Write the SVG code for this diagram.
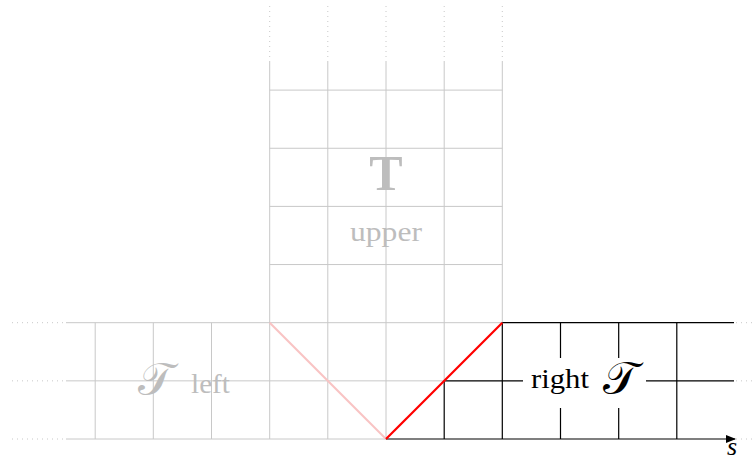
<svg xmlns="http://www.w3.org/2000/svg" width="755" height="460" viewBox="0 0 755 460">
<defs>
<style>
.g{stroke:#c8c8c8;stroke-width:1;fill:none}
.d{stroke:#c8c8c8;stroke-width:1;stroke-dasharray:1 4;fill:none}
.k{stroke:#000;stroke-width:1.2;fill:none}
text{font-family:"Liberation Serif","Times New Roman",serif}
.gt{fill:#bdbdbd}
.bt{fill:#000}
</style>
<marker id="arr" markerWidth="10" markerHeight="8" refX="9" refY="4" orient="auto" markerUnits="userSpaceOnUse">
<path d="M0,0 L10,4 L0,8 Z" fill="#000"/>
</marker>
</defs>
<rect width="755" height="460" fill="#fff"/>
<g id="connectors">
<g id="dotted">
<path class="d" d="M12,322.7H64M12,380.85H64M12,439H64"/>
<path class="d" d="M269.7,6V58M327.8,6V58M386,6V58M444.2,6V58M502.3,6V58"/>
<path class="d" d="M736,322.7H755M736,380.85H755M736,439H755"/>
</g>
<g id="grayGrid">
<path class="g" d="M95.2,322.7V439M153.3,322.7V439M211.5,322.7V439M269.7,61V439M327.8,61V439M386,61V439M444.2,61V380.85M502.3,61V322.7"/>
<path class="g" d="M269.7,90.1H502.3M269.7,148.25H502.3M269.7,206.4H502.3M269.7,264.55H502.3M66,322.7H502.3M66,380.85H444.2M66,439H386"/>
</g>
<line x1="269.7" y1="322.7" x2="386" y2="439" stroke="#f9c3c3" stroke-width="2"/>
<g id="blackGrid">
<path class="k" d="M444.2,380.85V439M502.3,322.7V439M560.5,322.7V358M560.5,408V439M618.7,322.7V358M618.7,408V439M676.8,322.7V439"/>
<path class="k" d="M502.3,322.7H734M444.2,380.85H523M646,380.85H734"/>
<line class="k" x1="386" y1="439" x2="735" y2="439" marker-end="url(#arr)"/>
</g>
<line x1="386" y1="439" x2="502.3" y2="322.7" stroke="#f00" stroke-width="2.2"/>
</g>
<g id="upper">
<text class="gt" x="386" y="190" font-family="Liberation Serif, serif" font-size="50" font-weight="bold" text-anchor="middle">T</text>
<text class="gt" x="386" y="241" font-family="Liberation Serif, serif" font-size="27" text-anchor="middle" textLength="72" lengthAdjust="spacingAndGlyphs">upper</text>
</g>
<g id="left">
<text class="gt" x="155" y="395" font-family="DejaVu Serif, Noto Sans, serif" font-size="46" text-anchor="middle">𝒯</text>
<text class="gt" x="191" y="393" font-family="Liberation Serif, serif" font-size="27" textLength="39" lengthAdjust="spacingAndGlyphs">left</text>
</g>
<g id="right">
<text class="bt" x="531" y="388" font-family="Liberation Serif, serif" font-size="27" textLength="58" lengthAdjust="spacingAndGlyphs">right</text>
<text class="bt" x="620" y="394" font-family="DejaVu Serif, Noto Sans, serif" font-size="46" text-anchor="middle">𝒯</text>
</g>
<g id="axis-label">
<text class="bt" x="727" y="455" font-family="Liberation Serif, serif" font-size="26" font-style="italic">s</text>
</g>
</svg>
